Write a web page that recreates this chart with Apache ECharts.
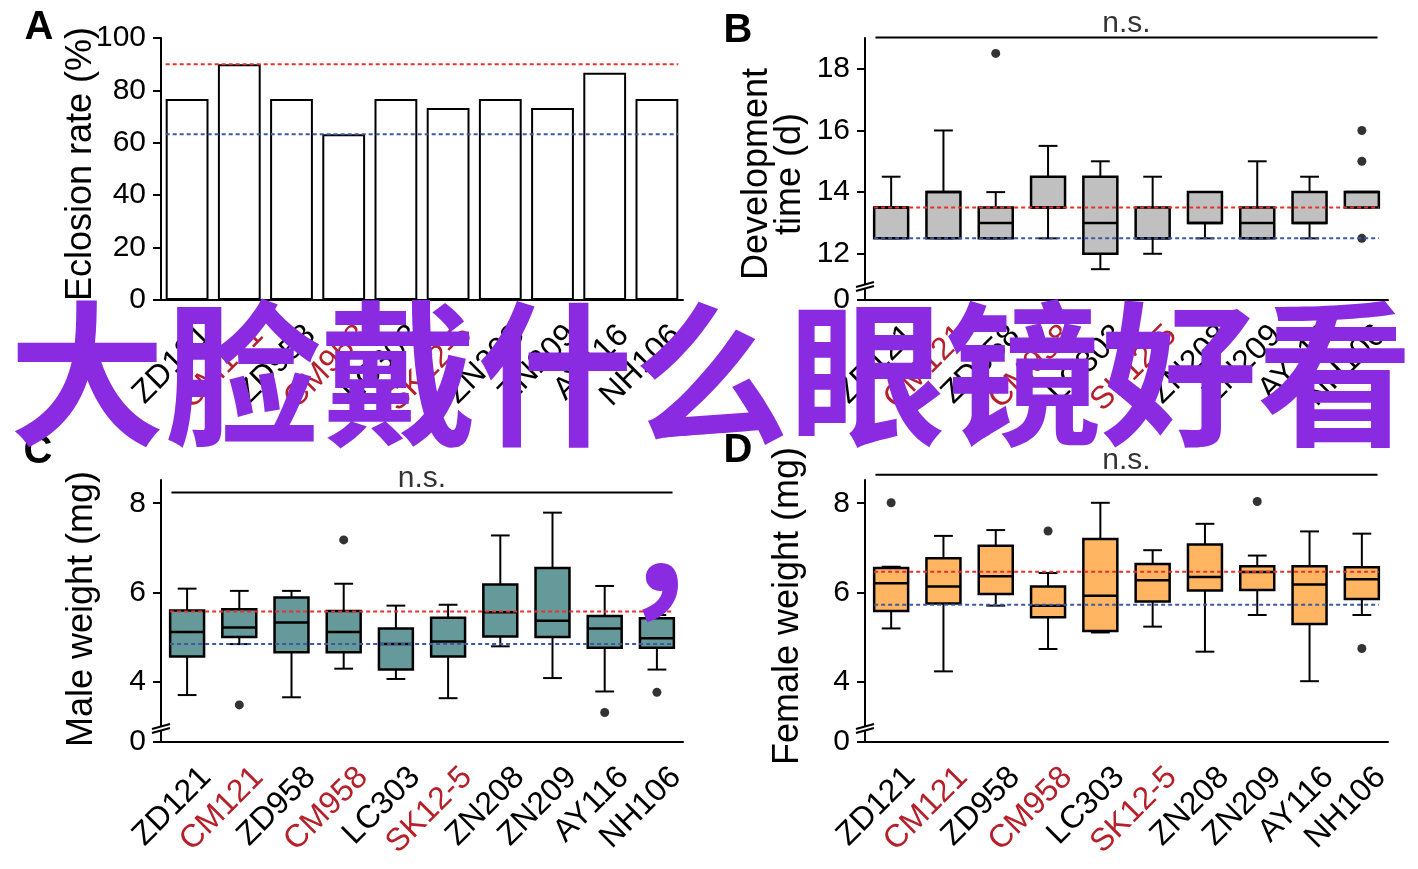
<!DOCTYPE html>
<html><head><meta charset="utf-8">
<script src="https://cdn.jsdelivr.net/npm/echarts@6/dist/echarts.min.js"></script>
<style>html,body{margin:0;padding:0;background:#fff}#c{width:1418px;height:869px}</style>
</head><body><div id="c"></div>
<script>
// ---------------- data ----------------
const categories = ['ZD121','CM121','ZD958','CM958','LC303','SK12-5','ZN208','ZN209','AY116','NH106'];
const redCategories = ['CM121','CM958','SK12-5'];

const eclosionRate = [76.7, 90, 76.7, 63.3, 76.7, 73.3, 76.7, 73.3, 86.7, 76.7];
const eclosionRefLines = [90, 63.3];            // [red, blue]
const eclosionTicks = [0, 20, 40, 60, 80, 100];

// [min, q1, median, q3, max]
const devTimeBoxes = [
  [12.5, 12.5, 13.5, 13.5, 14.5],
  [12.5, 12.5, 14, 14, 16],
  [12.5, 12.5, 13, 13.5, 14],
  [12.5, 13.5, 13.5, 14.5, 15.5],
  [11.5, 12, 13, 14.5, 15],
  [12, 12.5, 12.5, 13.5, 14.5],
  [12.5, 13, 13, 14, 14],
  [12.5, 12.5, 13, 13.5, 15],
  [12.5, 13, 13, 14, 14.5],
  [13.5, 13.5, 14, 14, 14]
];
const devTimeOutliers = [[2, 18.5], [9, 16], [9, 15], [9, 12.5]];
const devTimeRefLines = [13.5, 12.5];
const devTimeTicks = [12, 14, 16, 18];

const maleWeightBoxes = [
  [3.71, 4.57, 5.12, 5.60, 6.09],
  [4.85, 5.01, 5.22, 5.63, 6.04],
  [3.66, 4.67, 5.33, 5.89, 6.04],
  [4.30, 4.67, 5.12, 5.59, 6.20],
  [4.07, 4.28, 4.85, 5.20, 5.71],
  [3.64, 4.57, 4.91, 5.44, 5.73],
  [4.80, 5.02, 5.56, 6.18, 7.28],
  [4.09, 5.01, 5.37, 6.55, 7.79],
  [3.79, 4.77, 5.20, 5.48, 6.15],
  [4.28, 4.77, 4.98, 5.43, 5.50]
];
const maleWeightOutliers = [[1, 3.49], [3, 7.18], [8, 3.32], [9, 3.77]];
const maleWeightRefLines = [5.58, 4.85];

const femaleWeightBoxes = [
  [5.20, 5.59, 6.21, 6.55, 6.58],
  [4.24, 5.76, 6.14, 6.77, 7.27],
  [5.71, 5.97, 6.37, 7.05, 7.40],
  [4.74, 5.45, 5.71, 6.14, 6.44],
  [5.11, 5.14, 5.93, 7.20, 8.01],
  [5.24, 5.80, 6.28, 6.64, 6.95],
  [4.68, 6.05, 6.35, 7.08, 7.54],
  [5.50, 6.06, 6.46, 6.59, 6.83],
  [4.02, 5.30, 6.18, 6.59, 7.37],
  [5.50, 5.86, 6.30, 6.57, 7.32]
];
const femaleWeightOutliers = [[0, 8.01], [3, 7.38], [7, 8.04], [9, 4.75]];
const femaleWeightRefLines = [6.47, 5.73];
const weightTicks = [4, 6, 8];

const nsLevels = [19.02, 8.24, 8.64];   // panels B, C, D

// ---------------- styling ----------------
const FONT = '"Liberation Sans", Arial, Helvetica, sans-serif';
const RED = '#e8302f', BLUE = '#3f58a6', LABEL_RED = '#b5202a';
const axisRanges = [[0, 100], [10.5, 19], [2.66, 8.52], [2.66, 8.52]];
const tickSets = [eclosionTicks, [10.5].concat(devTimeTicks), [2.66].concat(weightTicks), [2.66].concat(weightTicks)];
const grids = [
  {left: 161, top: 38, width: 522, height: 262},
  {left: 865, top: 38, width: 523, height: 262},
  {left: 161, top: 480, width: 522, height: 262},
  {left: 865, top: 480, width: 523, height: 262}
];

const xAxes = [], yAxes = [];
for (let g = 0; g < 4; g++) {
  xAxes.push({
    type: 'category', gridIndex: g, data: categories, boundaryGap: true,
    axisLine: {onZero: false, lineStyle: {color: '#000', width: 2}},
    axisTick: {alignWithLabel: true, length: 8, lineStyle: {color: '#000', width: 2}},
    axisLabel: {
      interval: 0, rotate: 45, fontSize: 32, fontFamily: FONT, margin: 27,
      verticalAlign: 'top', padding: [0, -11, 0, 0],
      color: v => redCategories.includes(v) ? LABEL_RED : '#000'
    },
    splitLine: {show: false}
  });
  const mn = axisRanges[g][0];
  yAxes.push({
    type: 'value', gridIndex: g, min: mn, max: axisRanges[g][1],
    axisLine: {show: true, onZero: false, lineStyle: {color: '#000', width: 2}},
    axisTick: {show: true, length: 8, lineStyle: {color: '#000', width: 2}, customValues: tickSets[g]},
    axisLabel: {fontSize: 30, fontFamily: FONT, color: '#000', margin: 15, customValues: tickSets[g],
      formatter: v => (g > 0 && v === mn) ? '0' : String(v)},
    splitLine: {show: false}
  });
}
for (let g = 0; g < 4; g++) {
  xAxes.push({type: 'value', gridIndex: g, min: -0.5, max: 9.5, show: false});
}

function makeBoxRenderer(fill) {
  return function (params, api) {
    const i = api.value(0);
    const p = k => api.coord([i, api.value(k)]);
    const [x, yMin] = p(1);
    const yQ1 = p(2)[1], yMed = p(3)[1], yQ3 = p(4)[1], yMax = p(5)[1];
    const band = api.size([1, 0])[0];
    const hw = band * 0.325, cw = band * 0.18;
    const ls = {stroke: '#000', lineWidth: 2};
    return {type: 'group', children: [
      {type: 'line', shape: {x1: x, y1: yQ3, x2: x, y2: yMax}, style: ls},
      {type: 'line', shape: {x1: x - cw, y1: yMax, x2: x + cw, y2: yMax}, style: ls},
      {type: 'line', shape: {x1: x, y1: yQ1, x2: x, y2: yMin}, style: ls},
      {type: 'line', shape: {x1: x - cw, y1: yMin, x2: x + cw, y2: yMin}, style: ls},
      {type: 'rect', shape: {x: x - hw, y: yQ3, width: 2 * hw, height: yQ1 - yQ3},
        style: {fill: fill, stroke: '#000', lineWidth: 2.5}},
      {type: 'line', shape: {x1: x - hw, y1: yMed, x2: x + hw, y2: yMed}, style: {stroke: '#000', lineWidth: 2.5}}
    ]};
  };
}

function refLine(g, value, color, half) {
  return {type: 'line', xAxisIndex: 4 + g, yAxisIndex: g, data: [[-half, value], [9 + half, value]],
    symbol: 'none', silent: true, z: 6, lineStyle: {color: color, width: 2, type: [4, 3]}};
}
function nsSeries(g, level) {
  return [
    {type: 'line', xAxisIndex: 4 + g, yAxisIndex: g, data: [[-0.3, level], [9.3, level]], clip: false,
      symbol: 'none', silent: true, z: 6, lineStyle: {color: '#000', width: 2}},
    {type: 'scatter', xAxisIndex: 4 + g, yAxisIndex: g, data: [[4.5, level]], clip: false, symbolSize: 1,
      itemStyle: {color: 'rgba(0,0,0,0)'}, silent: true, z: 6,
      label: {show: true, position: 'top', distance: -2, formatter: 'n.s.', fontSize: 30, fontFamily: FONT, color: '#000'}}
  ];
}
function boxSeries(g, boxes, outliers, fill) {
  return [
    {type: 'custom', xAxisIndex: g, yAxisIndex: g, renderItem: makeBoxRenderer(fill),
      encode: {x: 0, y: [1, 2, 3, 4, 5]}, data: boxes.map((b, i) => [i].concat(b)), z: 3},
    {type: 'scatter', xAxisIndex: g, yAxisIndex: g, data: outliers, symbolSize: 9,
      itemStyle: {color: '#000'}, z: 4, clip: false}
  ];
}

const series = [
  {type: 'bar', xAxisIndex: 0, yAxisIndex: 0, data: eclosionRate, barWidth: '82%', z: 3,
    itemStyle: {color: '#fff', borderColor: '#000', borderWidth: 2}},
  refLine(0, eclosionRefLines[0], RED, 0.41),
  refLine(0, eclosionRefLines[1], BLUE, 0.41)
].concat(
  boxSeries(1, devTimeBoxes, devTimeOutliers, '#c0c0c0'),
  [refLine(1, devTimeRefLines[0], RED, 0.325), refLine(1, devTimeRefLines[1], BLUE, 0.325)],
  nsSeries(1, nsLevels[0]),
  boxSeries(2, maleWeightBoxes, maleWeightOutliers, '#669999'),
  [refLine(2, maleWeightRefLines[0], RED, 0.325), refLine(2, maleWeightRefLines[1], BLUE, 0.325)],
  nsSeries(2, nsLevels[1]),
  boxSeries(3, femaleWeightBoxes, femaleWeightOutliers, '#ffb562'),
  [refLine(3, femaleWeightRefLines[0], RED, 0.325), refLine(3, femaleWeightRefLines[1], BLUE, 0.325)],
  nsSeries(3, nsLevels[2])
);

const chart = echarts.init(document.getElementById('c'), null, {renderer: 'canvas'});
chart.setOption({
  animation: false,
  backgroundColor: '#fff',
  grid: grids,
  xAxis: xAxes,
  yAxis: yAxes,
  series: series
});

// ---------------- decorations ----------------
const graphics = [];
function txt(x, y, text, font, rot, extra) {
  graphics.push(Object.assign({type: 'text', x: x, y: y, rotation: rot || 0, z: 50,
    style: {text: text, font: font, fill: '#000', align: 'center', verticalAlign: 'middle'}}, extra || {}));
}
const titleFont = '36px ' + FONT;
const letterFont = 'bold 40px ' + FONT;
txt(81, 164, 'Eclosion rate (%)', titleFont, Math.PI / 2);
graphics.push({type: 'text', x: 774, y: 174, rotation: Math.PI / 2, z: 50,
  style: {text: 'Development\ntime (d)', font: titleFont, fill: '#000', align: 'center', verticalAlign: 'middle', lineHeight: 33}});
txt(82, 609, 'Male weight (mg)', titleFont, Math.PI / 2);
txt(788, 606, 'Female weight (mg)', titleFont, Math.PI / 2);
txt(39, 28, 'A', letterFont);
txt(738, 31, 'B', letterFont);
txt(38, 452, 'C', letterFont);
txt(738, 451, 'D', letterFont);

// axis break marks on panels B, C, D
for (let g = 1; g < 4; g++) {
  const pt = chart.convertToPixel({xAxisIndex: 4 + g, yAxisIndex: g}, [-0.5, axisRanges[g][0]]);
  const x = pt[0], yb = pt[1];
  graphics.push({type: 'rect', z: 40, shape: {x: x - 3, y: yb - 15, width: 6, height: 4}, style: {fill: '#fff'}});
  [yb - 15.5, yb - 11.5].forEach(yc => {
    graphics.push({type: 'line', z: 41, shape: {x1: x - 9, y1: yc + 2.5, x2: x + 9, y2: yc - 2.5},
      style: {stroke: '#000', lineWidth: 2}});
  });
}

// overlay caption
const wmFont = 'bold 156px "Noto Sans CJK SC", "Noto Sans CJK JP", sans-serif';
graphics.push({type: 'text', x: 711, y: 374, z: 100,
  style: {text: '大脸戴什么眼镜好看', font: wmFont, fill: '#8a2be2', align: 'center', verticalAlign: 'middle'}});
graphics.push({type: 'text', x: 695, y: 541, z: 100,
  style: {text: '，', font: wmFont, fill: '#8a2be2', align: 'center', verticalAlign: 'middle'}});

chart.setOption({graphic: graphics});
</script></body></html>
